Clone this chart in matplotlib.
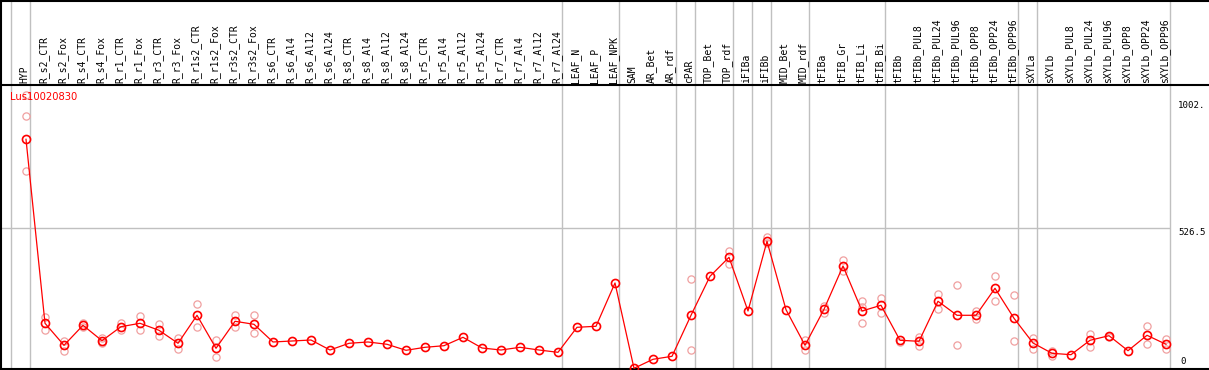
import matplotlib
matplotlib.use("Agg")
import matplotlib.pyplot as plt
import matplotlib.transforms as mtransforms

samples = ["HYP", "R_s2_CTR", "R_s2_Fox", "R_s4_CTR", "R_s4_Fox", "R_r1_CTR", "R_r1_Fox",
           "R_r3_CTR", "R_r3_Fox", "R_r1s2_CTR", "R_r1s2_Fox", "R_r3s2_CTR", "R_r3s2_Fox",
           "R_s6_CTR", "R_s6_Al4", "R_s6_Al12", "R_s6_Al24", "R_s8_CTR", "R_s8_Al4",
           "R_s8_Al12", "R_s8_Al24", "R_r5_CTR", "R_r5_Al4", "R_r5_Al12", "R_r5_Al24",
           "R_r7_CTR", "R_r7_Al4", "R_r7_Al12", "R_r7_Al24", "LEAF_N", "LEAF_P", "LEAF_NPK",
           "SAM", "AR_Bet", "AR_rdf", "cPAR", "TOP_Bet", "TOP_rdf", "iFIBa", "iFIBb",
           "MID_Bet", "MID_rdf", "tFIBa", "tFIB_Gr", "tFIB_Li", "tFIB_Bi", "tFIBb",
           "tFIBb_PUL8", "tFIBb_PUL24", "tFIBb_PUL96", "tFIBb_OPP8", "tFIBb_OPP24",
           "tFIBb_OPP96", "sXYLa", "sXYLb", "sXYLb_PUL8", "sXYLb_PUL24", "sXYLb_PUL96",
           "sXYLb_OPP8", "sXYLb_OPP24", "sXYLb_OPP96"]

# number of samples in each block (separated by grey lines)
group_sizes = [1, 28, 3, 3, 1, 2, 1, 1, 2, 4, 7, 1, 7]

means = [858.8, 170.9, 88.6, 163.4, 105.8, 158.2, 170.9, 144.7, 96.1, 200.8, 77.4, 178.4,
         167.1, 101.0, 104.7, 108.4, 71.0, 96.1, 101.0, 92.4, 69.9, 81.1, 87.1, 118.5, 78.5,
         71.0, 81.1, 71.0, 62.4, 155.9, 159.7, 321.6, 2.6, 36.3, 47.5, 200.8, 346.6, 417.6,
         216.9, 477.5, 221.7, 88.6, 223.2, 385.1, 216.9, 238.2, 107.3, 103.6, 253.2, 200.8,
         200.8, 301.7, 189.6, 97.2, 58.7, 53.5, 107.3, 124.5, 68.4, 126.0, 92.4]

replicates = [
    [1023, 944.8, 739.2], [193.3, 145.8], [105.8, 68.4], [173.1, 158.2], [115.9, 98.3],
    [173.1, 145.8], [198.2, 145.8], [168.3, 124.5], [115.9, 73.7], [243.0, 155.9],
    [107.3, 46.0], [200.8, 155.9], [200.8, 133.5],
    [], [], [], [], [], [], [], [], [], [], [], [], [], [], [], [],
    [], [], [], [], [], [],
    [335.4, 69.9], [], [442.3, 391.5], [], [494.7, 470.0], [], [108.4, 69.9],
    [235.6, 210.5], [406.4, 367.5], [254.3, 230.7, 170.9], [264.3, 208.3],
    [101.0], [120.8, 86.0], [280.4, 225.5], [313.0, 88.6], [215.7, 187.0],
    [346.6, 253.1], [275.6, 104.7], [117.0, 75.9], [68.4, 48.6], [],
    [130.9, 81.1], [118.5], [], [159.7, 92.4], [112.2, 75.9],
]

gene = "Lus10020830"
y_max = 1002.0
y_mid = 526.5

W, H = 1209, 370
fig = plt.figure(figsize=(W / 100, H / 100), dpi=100)
ax = fig.add_axes([0, 1 / H, 1, 284 / H])

x = list(range(len(samples)))
step = 19.0
ax.set_xlim(-26 / step, (W - 26) / step)
ax.set_ylim(0, y_max * 284 / 268)

# separators
bounds = [-1]
for g in group_sizes:
    bounds.append(bounds[-1] + g)
for b in bounds:
    ax.axvline(b + 0.22, ymin=0, ymax=370 / 284, color="#c0c0c0", lw=1, clip_on=False, zorder=0)
ax.hlines(y_mid, -26 / step, bounds[-1] + 0.22, color="#c0c0c0", lw=1, zorder=0)

# replicates
for i, reps in enumerate(replicates):
    if reps:
        ax.plot([i] * len(reps), reps, "o", ms=5.2, mfc="none", mec="#f0a0a0", mew=0.9,
                zorder=2)

ax.plot(x, means, "-", color="red", lw=0.9, zorder=3)
ax.plot(x, means, "o", ms=5.8, mfc="none", mec="red", mew=1.2, zorder=4)

# header labels
trans = mtransforms.blended_transform_factory(ax.transData, ax.transAxes)
for i, s in enumerate(samples):
    ax.text(i - 0.08, 1 + 2 / 284, s, transform=trans, rotation=90, ha="center", va="bottom",
            fontsize=7, family="DejaVu Sans Mono")

ax.text(10 / step - 26 / step, 1 - 7 / 284, gene, transform=trans, ha="left", va="top",
        fontsize=7.2, color="red", family="DejaVu Sans")

# value labels on the right
lx = (1178 - 26) / step
ax.text(lx, y_max, "1002.", ha="left", va="top", fontsize=6.6, family="DejaVu Sans Mono")
ax.text(lx, y_mid, "526.5", ha="left", va="top", fontsize=6.6, family="DejaVu Sans Mono")
ax.text(lx, 0, "0", ha="left", va="bottom", fontsize=6.6, family="DejaVu Sans Mono",
        transform=ax.transData + mtransforms.ScaledTranslation(2 / 100, 3 / 100, fig.dpi_scale_trans))

ax.set_xticks([])
ax.set_yticks([])
ax.spines["right"].set_visible(False)
for side in ["left", "top", "bottom"]:
    ax.spines[side].set_linewidth(1.5)
    ax.spines[side].set_color("black")

# outer frame at the top and left of the header
fig.add_artist(plt.Line2D([0, 1], [1 - 0.5 / H, 1 - 0.5 / H], color="black", lw=1.5))
fig.add_artist(plt.Line2D([0.8 / W, 0.8 / W], [0, 1], color="black", lw=1.5))

fig.savefig("out.png", dpi=100)
